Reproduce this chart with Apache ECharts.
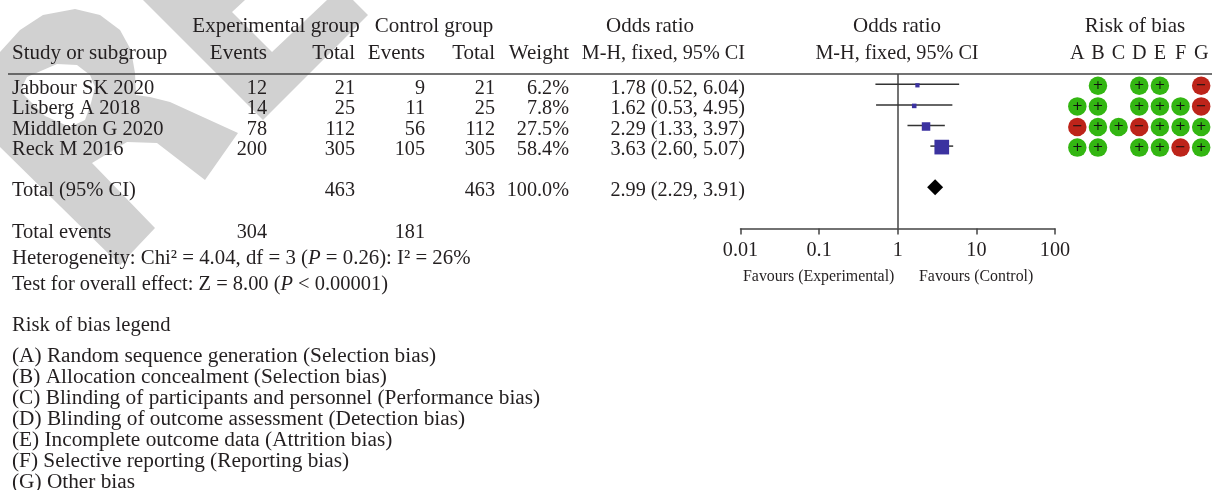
<!DOCTYPE html>
<html><head><meta charset="utf-8">
<style>html,body{margin:0;padding:0;background:#fff}#c{width:1212px;height:490px}</style>
<script src="https://cdn.jsdelivr.net/npm/echarts@6/dist/echarts.min.js"></script>
</head><body><div id="c"></div>
<script>
const studies = ['Jabbour SK 2020','Lisberg A 2018','Middleton G 2020','Reck M 2016'];
const expEvents = [12,14,78,200];
const expTotal = [21,25,112,305];
const ctrlEvents = [9,11,56,105];
const ctrlTotal = [21,25,112,305];
const weights = [6.2,7.8,27.5,58.4];
const oddsRatio = [1.78,1.62,2.29,3.63];
const ciLow = [0.52,0.53,1.33,2.60];
const ciHigh = [6.04,4.95,3.97,5.07];
const pooled = {or:2.99, low:2.29, high:3.91, row:5};
const totals = {expTotal:463, ctrlTotal:463, expEvents:304, ctrlEvents:181, weight:'100.0%'};
const biasDomains = ['A','B','C','D','E','F','G'];
const riskOfBias = ['.+.++.-','++.+++-','-++-+++','++.++-+'];
const legendLines = ['(A) Random sequence generation (Selection bias)','(B) Allocation concealment (Selection bias)','(C) Blinding of participants and personnel (Performance bias)','(D) Blinding of outcome assessment (Detection bias)','(E) Incomplete outcome data (Attrition bias)','(F) Selective reporting (Reporting bias)','(G) Other bias'];

const FONT = '"Liberation Serif","DejaVu Serif",serif';
const INK = '#231f20';
const SZ = 21;
const NAME = 20.5;
const NUM = 20.2;
const g = [];
function t(x,y,text,align,size,extra){
  g.push({type:'text',x:x,y:y+0.5,z:10,style:Object.assign({text:text,x:0,y:0,fill:INK,font:(size||SZ)+'px '+FONT,textAlign:align||'left',textVerticalAlign:'middle'},extra||{})});
}
const WM = '#d1d1d1';
g.push({type:'polygon',z:1,shape:{points:[[143,0],[245,0],[232,12],[272,52],[327,0],[353,0],[368,15],[263,120]]},style:{fill:WM}});
g.push({type:'polygon',z:1,shape:{points:[[0,52],[20,30],[43,15],[75,9],[100,15],[120,30],[131,50],[135,73],[136,95],[150,97],[170,102],[238,133],[205,180],[157,143],[127,142],[92,163],[155,228],[120,265],[0,147]]},style:{fill:WM}});
g.push({type:'polygon',z:2,shape:{points:[[57,64],[77,65],[90,75],[95,87],[91,103],[85,120],[70,127],[45,116],[20,91],[27,77]]},style:{fill:'#fff'}});
g.push({type:'line',z:5,shape:{x1:8,y1:74,x2:1212,y2:74},style:{stroke:'#444',lineWidth:1.5}});
const Y1=25.5, Y2=53;
t(276,Y1,'Experimental group','center'); t(434,Y1,'Control group','center');
t(650,Y1,'Odds ratio','center'); t(897,Y1,'Odds ratio','center'); t(1135,Y1,'Risk of bias','center');
t(12,Y2,'Study or subgroup'); t(267,Y2,'Events','right'); t(355,Y2,'Total','right');
t(425,Y2,'Events','right'); t(495,Y2,'Total','right'); t(569,Y2,'Weight','right');
t(745,Y2,'M-H, fixed, 95% CI','right',NUM); t(897,Y2,'M-H, fixed, 95% CI','center',NUM);
const rowY=[88,108.5,129,149];
studies.forEach((s,i)=>{
  const y=rowY[i];
  t(12,y,s,'left',NAME); t(267,y,String(expEvents[i]),'right',NUM); t(355,y,String(expTotal[i]),'right',NUM);
  t(425,y,String(ctrlEvents[i]),'right',NUM); t(495,y,String(ctrlTotal[i]),'right',NUM);
  t(569,y,weights[i].toFixed(1)+'%','right',NUM);
  t(745,y,oddsRatio[i].toFixed(2)+' ('+ciLow[i].toFixed(2)+', '+ciHigh[i].toFixed(2)+')','right',NUM);
});
t(12,190,'Total (95% CI)','left',NAME); t(355,190,String(totals.expTotal),'right',NUM); t(495,190,String(totals.ctrlTotal),'right',NUM);
t(569,190,totals.weight,'right',NUM); t(745,190,pooled.or.toFixed(2)+' ('+pooled.low.toFixed(2)+', '+pooled.high.toFixed(2)+')','right',NUM);
t(12,232,'Total events','left',NAME); t(267,232,String(totals.expEvents),'right',NUM); t(425,232,String(totals.ctrlEvents),'right',NUM);
const mkRich=s=>({n:{font:s+'px '+FONT,fill:INK},i:{font:'italic '+s+'px '+FONT,fill:INK}});
t(12,258,'{n|Heterogeneity: Chi² = 4.04, df = 3 (}{i|P}{n| = 0.26): I² = 26%}','left',20.8,{rich:mkRich(20.8)});
t(12,284,'{n|Test for overall effect: Z = 8.00 (}{i|P}{n| < 0.00001)}','left',20.45,{rich:mkRich(20.45)});
t(12,325,'Risk of bias legend','left',20.6);
const legY=[356,377,398,419,440,461,482];
legendLines.forEach((l,i)=>t(12,legY[i],l,'left',21.3));
t(743,276,'Favours (Experimental)','left',15.9); t(919,276,'Favours (Control)','left',15.9);

const ciData = studies.map((s,i)=>[ciLow[i],ciHigh[i],i]);
const squareData = studies.map((s,i)=>[oddsRatio[i],i,weights[i]]);
const dots=[];
riskOfBias.forEach((r,row)=>{ for(let c=0;c<r.length;c++){ if(r[c]!=='.') dots.push([biasDomains[c],row,r[c]]); } });

const opt={
  animation:false, backgroundColor:'#fff',
  textStyle:{fontFamily:FONT},
  graphic:{elements:g},
  grid:[
    {left:740.5,width:314.5,top:74,height:154.5},
    {left:1067,width:144.5,top:75.5,height:154.5}
  ],
  xAxis:[
    {gridIndex:0,type:'log',logBase:10,min:0.01,max:100,position:'bottom',
     axisLine:{show:true,onZero:false,lineStyle:{color:'#444',width:1.5}},
     axisTick:{show:true,length:6,inside:false,lineStyle:{color:'#444',width:1.5}},
     minorTick:{show:false},splitLine:{show:false},
     axisLabel:{color:INK,fontSize:NUM,fontFamily:FONT,margin:12,formatter:v=>String(+(+v).toPrecision(3)),showMinLabel:true,showMaxLabel:true}},
    {gridIndex:1,type:'category',data:biasDomains,position:'top',
     axisLine:{show:false,onZero:false},axisTick:{show:false},splitLine:{show:false},
     axisLabel:{color:INK,fontSize:NUM,fontFamily:FONT,margin:12,interval:0}}
  ],
  yAxis:[
    {gridIndex:0,type:'value',min:-0.5,max:7,inverse:true,show:false},
    {gridIndex:1,type:'value',min:-0.5,max:7,inverse:true,show:false}
  ],
  series:[
    {type:'custom',xAxisIndex:0,yAxisIndex:0,data:ciData,encode:{x:[0,1],y:2},clip:false,z:3,
     renderItem:(p,api)=>{
       const a=api.coord([api.value(0),api.value(2)]),b=api.coord([api.value(1),api.value(2)]);
       return {type:'line',shape:{x1:a[0],y1:a[1],x2:b[0],y2:b[1]},style:{stroke:'#333',lineWidth:1.5}};
     }},
    {type:'scatter',xAxisIndex:0,yAxisIndex:0,data:squareData,symbol:'rect',z:4,
     symbolSize:d=>3+d[2]*0.2,symbolOffset:[0,1],itemStyle:{color:'#3b32a0',opacity:1},
     markLine:{silent:true,symbol:'none',label:{show:false},lineStyle:{color:'#444',width:1.5,type:'solid'},z:2,data:[{xAxis:1}]}},
    {type:'scatter',xAxisIndex:0,yAxisIndex:0,data:[[pooled.or,pooled.row]],symbol:'diamond',symbolSize:[16,16],z:4,itemStyle:{color:'#000',opacity:1}},
    {type:'scatter',xAxisIndex:1,yAxisIndex:1,data:dots,symbol:'circle',symbolSize:18.5,z:4,
     itemStyle:{opacity:1,color:p=>p.value[2]==='+'?'#33b612':'#bd241a'},
     label:{show:true,position:'inside',formatter:p=>p.value[2]==='+'?'+':'−',color:'#111',fontSize:13,fontFamily:'"DejaVu Sans",sans-serif',fontWeight:'normal'}}
  ]
};
echarts.init(document.getElementById('c'),null,{renderer:'canvas'}).setOption(opt);
</script></body></html>
